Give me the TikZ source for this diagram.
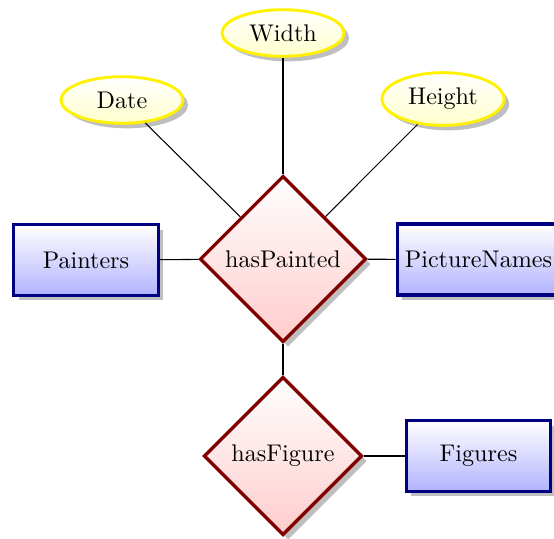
\documentclass[tikz,border=0pt]{standalone}
\usetikzlibrary{shapes.geometric,shadows}
\tikzset{
  entitybox/.style={rectangle, draw=blue!50!black, line width=1.4pt,
    top color=white, bottom color=blue!30, minimum width=62.1pt, minimum height=30.4pt,
    drop shadow},
  relbox/.style={diamond, aspect=1, draw=red!50!black, line width=1.4pt,
    top color=white, bottom color=red!20, inner sep=3.6pt, drop shadow},
  attrbox/.style={ellipse, draw=yellow, line width=1.25pt,
    top color=white, bottom color=yellow!20, minimum width=52.4pt, minimum height=20pt,
    drop shadow},
  link/.style={draw=black, line width=0.45pt},
  every node/.style={font=\fontsize{10.35}{12.4}\selectfont}
}
\begin{document}
\begin{tikzpicture}[x=0.4292pt, y=-0.4292pt]
\useasboundingbox (0,0) rectangle (554,538);
\node[entitybox] (painters) at (86,260) {Painters};
\node[relbox] (haspainted) at (283,259) {hasPainted};
\node[entitybox, anchor=west] (pictures) at (395.5,259.5) {PictureNames};
\node[attrbox] (date) at (122,100) {Date};
\node[attrbox] (width) at (283,33) {Width};
\node[attrbox] (height) at (443,99) {Height};
\node[relbox] (hasfigure) at (283,456) {hasFigure};
\node[entitybox] (figures) at (478.5,456) {Figures};
\draw[link] (painters) -- (haspainted);
\draw[link] (haspainted) -- (pictures);
\draw[link] (haspainted) -- (date);
\draw[link] (haspainted) -- (width);
\draw[link] (haspainted) -- (height);
\draw[link] (haspainted) -- (hasfigure);
\draw[link] (hasfigure) -- (figures);
\end{tikzpicture}
\end{document}
